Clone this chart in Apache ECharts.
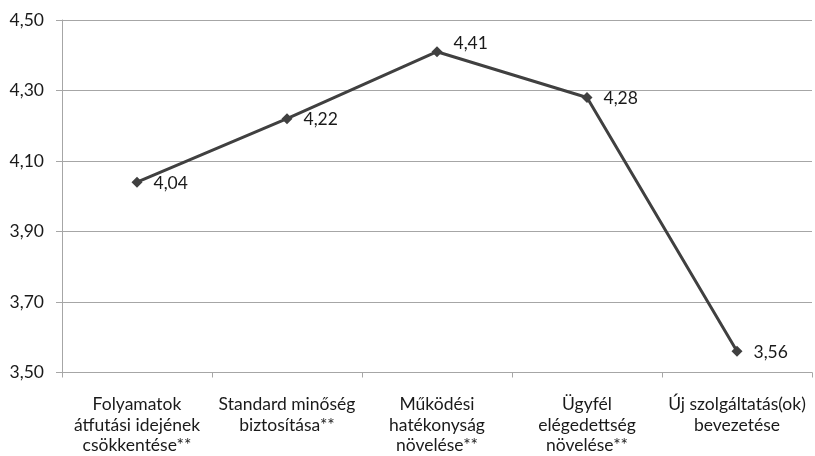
<!DOCTYPE html>
<html>
<head>
<meta charset="utf-8">
<script src="https://cdn.jsdelivr.net/npm/echarts@6/dist/echarts.min.js"></script>
<style>
  html, body { margin: 0; padding: 0; background: #ffffff; }
  #chart { width: 815px; height: 456px; }
</style>
</head>
<body>
<div id="chart"></div>
<script>
// Categories (goals) and their average scores
const categories = [
  'Folyamatok\nátfutási idejének\ncsökkentése**',
  'Standard minőség\nbiztosítása**',
  'Működési\nhatékonyság\nnövelése**',
  'Ügyfél\nelégedettség\nnövelése**',
  'Új szolgáltatás(ok)\nbevezetése'
];
const scores = [4.04, 4.22, 4.41, 4.28, 3.56];

const yMin = 3.5;
const yMax = 4.5;
const yStep = 0.2;

const fmt = v => v.toFixed(2).replace('.', ',');
const fontFamily = 'Lato, "Open Sans", sans-serif';
const axisGray = '#a6a6a6';
const textColor = '#1a1a1a';
const fontSize = 17.5;

// The peak label sits a little higher so it clears the descending segment
const seriesData = scores.map((v, i) => {
  const peak = v === Math.max(...scores);
  return peak ? { value: v, label: { offset: [0, -8] } } : { value: v };
});

const chart = echarts.init(document.getElementById('chart'));
chart.setOption({
  animation: false,
  backgroundColor: '#ffffff',
  grid: { left: 62, right: 3, top: 20, bottom: 83 },
  xAxis: {
    type: 'category',
    data: categories,
    boundaryGap: true,
    axisLine: { lineStyle: { color: axisGray, width: 1 } },
    axisTick: { show: true, length: 5, lineStyle: { color: axisGray } },
    axisLabel: {
      color: textColor, fontSize: fontSize, fontFamily: fontFamily,
      lineHeight: 20.5, margin: 22, interval: 0, align: 'center'
    }
  },
  yAxis: {
    type: 'value',
    min: yMin, max: yMax, interval: yStep,
    axisLine: { show: true, lineStyle: { color: axisGray, width: 1 } },
    axisTick: { show: true, length: 6, lineStyle: { color: axisGray } },
    splitLine: { show: true, lineStyle: { color: axisGray, width: 1 } },
    axisLabel: {
      color: textColor, fontSize: fontSize, fontFamily: fontFamily, margin: 18,
      formatter: v => fmt(v)
    }
  },
  series: [{
    type: 'line',
    data: seriesData,
    symbol: 'diamond',
    symbolSize: 11,
    lineStyle: { color: '#404040', width: 3 },
    itemStyle: { color: '#404040' },
    label: {
      show: true, position: 'right', distance: 11, offset: [0, 1],
      color: textColor, fontSize: fontSize, fontFamily: fontFamily,
      formatter: p => fmt(p.value)
    }
  }]
});
</script>
</body>
</html>
